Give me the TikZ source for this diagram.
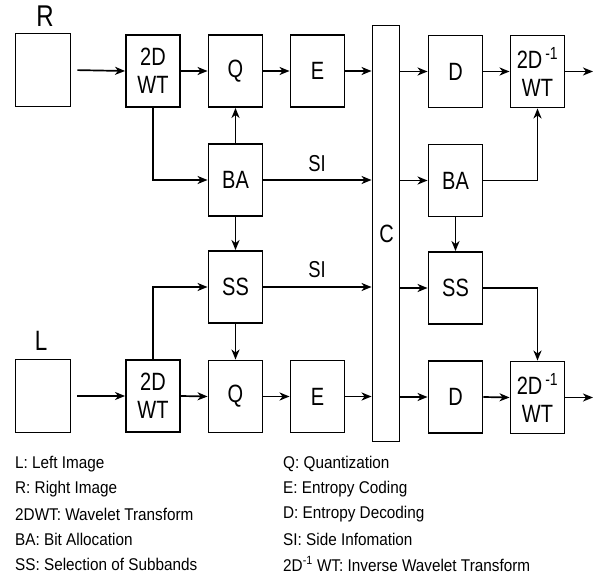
\documentclass[tikz,border=0pt]{standalone}
\usepackage{fontspec}
\setmainfont{Liberation Sans}[FakeStretch=0.9]
\newfontfamily\boxf{Liberation Sans}[FakeStretch=0.8]
\usetikzlibrary{arrows.meta,positioning}
\tikzset{
  blk/.style={draw, line width=1.9pt, minimum width=54pt, minimum height=72pt, inner sep=0pt,
    align=center, font=\boxf\fontsize{25}{28}\selectfont},
  arr/.style={line width=1.7pt, -{Stealth[length=10pt,width=8pt,inset=3pt]}},
  leg/.style={anchor=west, inner sep=0pt, font=\fontsize{17}{19}\selectfont},
  sil/.style={font=\boxf\fontsize{23}{26}\selectfont, inner sep=0pt}
}
\begin{document}
\begin{tikzpicture}[x=1pt,y=-1pt]
\useasboundingbox (0,0) rectangle (600,580);
% labels
\node[font=\boxf\fontsize{30}{32}\selectfont, inner sep=0pt] (labR) at (45,16) {R};
\node[font=\boxf\fontsize{28}{30}\selectfont, inner sep=0pt] (labL) at (41,341) {L};
% top row
\node[blk, minimum width=55pt, minimum height=73pt] (Rb) at (43,70) {};
\node[blk] (WT1) at (153,71) {2D\\WT};
\node[blk] (Q1) at (235.5,71) {Q};
\node[blk] (E1) at (317.5,71) {E};
\node[blk] (D1) at (455.5,71.5) {D};
\node[blk] (IW1) at (537.5,71.5) {2D\textsuperscript{\,-1}\\WT};
% middle
\node[blk] (BA1) at (235.5,180) {BA};
\node[blk] (BA2) at (455.5,180.5) {BA};
\node[blk] (SS1) at (235.5,287) {SS};
\node[blk] (SS2) at (455.5,288) {SS};
% bottom row
\node[blk, minimum width=55pt, minimum height=73pt] (Lb) at (43,396) {};
\node[blk] (WT2) at (153,396) {2D\\WT};
\node[blk] (Q2) at (235.5,396.5) {Q};
\node[blk] (E2) at (317.5,396.5) {E};
\node[blk] (D2) at (455.5,397) {D};
\node[blk] (IW2) at (537.5,397.5) {2D\textsuperscript{\,-1}\\WT};
% channel
\node[blk, minimum width=27pt, minimum height=416pt] (C) at (386,233.5) {};
\node[font=\boxf\fontsize{25}{28}\selectfont, inner sep=0pt] (Ct) at (386.5,234) {C};
% coordinates for outputs
\coordinate (o1) at (593,71.5);
\coordinate (o2) at (593,397.5);
% arrows top
\draw[arr, shorten <=6pt] (Rb.east) -- (WT1.west);
\draw[arr] (WT1.east) -- (Q1.west);
\draw[arr] (Q1.east) -- (E1.west);
\draw[arr] (E1.east) -- (E1.east -| C.west);
\draw[arr] (D1.west -| C.east) -- (D1.west);
\draw[arr] (D1.east) -- (IW1.west);
\draw[arr] (IW1.east) -- (o1);
% arrows bottom
\draw[arr, shorten <=6pt] (Lb.east) -- (WT2.west);
\draw[arr] (WT2.east) -- (Q2.west);
\draw[arr] (Q2.east) -- (E2.west);
\draw[arr] (E2.east) -- (E2.east -| C.west);
\draw[arr] (D2.west -| C.east) -- (D2.west);
\draw[arr] (D2.east) -- (IW2.west);
\draw[arr] (IW2.east) -- (o2);
% encoder side
\draw[arr] (WT1.south) |- (BA1.west);
\draw[arr] (BA1.north) -- (Q1.south);
\draw[arr] (BA1.east) -- (BA1.east -| C.west);
\draw[arr] (BA1.south) -- (SS1.north);
\draw[arr] (WT2.north) |- (SS1.west);
\draw[arr] (SS1.east) -- (SS1.east -| C.west);
\draw[arr] (SS1.south) -- (Q2.north);
\node[sil] (si1) at (317,164) {SI};
\node[sil] (si2) at (317,270) {SI};
% decoder side
\draw[arr] (BA2.west -| C.east) -- (BA2.west);
\draw[arr] (SS2.west -| C.east) -- (SS2.west);
\draw[arr] (BA2.south) -- (SS2.north);
\draw[arr] (BA2.east) -| (IW1.south);
\draw[arr] (SS2.east) -| (IW2.north);
% legend
\node[leg] (l1) at (15,464) {L: Left Image};
\node[leg] (l2) at (15,489) {R: Right Image};
\node[leg] (l3) at (15,514) {2DWT: Wavelet Transform};
\node[leg] (l4) at (15,539) {BA: Bit Allocation};
\node[leg] (l5) at (15,564) {SS: Selection of Subbands};
\node[leg] (r1) at (283,464) {Q: Quantization};
\node[leg] (r2) at (283,489) {E: Entropy Coding};
\node[leg] (r3) at (283,514) {D: Entropy Decoding};
\node[leg] (r4) at (283,539) {SI: Side Infomation};
\node[leg] (r5) at (283,564) {2D\textsuperscript{-1} WT: Inverse Wavelet Transform};
\end{tikzpicture}
\end{document}
